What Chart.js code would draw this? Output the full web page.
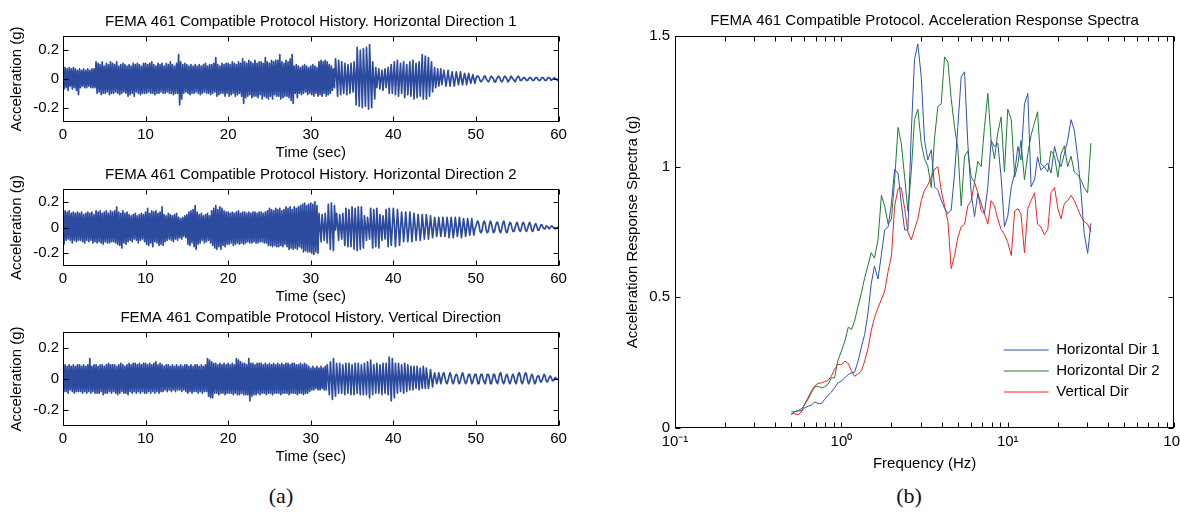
<!DOCTYPE html>
<html>
<head>
<meta charset="utf-8">
<title>FEMA 461 Compatible Protocol</title>
<script src="https://cdn.jsdelivr.net/npm/chart.js@4.4.1/dist/chart.umd.min.js"></script>
<style>
  html, body { margin: 0; padding: 0; background: #fff; }
  body { width: 1180px; height: 512px; position: relative; overflow: hidden; }
  canvas { position: absolute; }
  .panel-tag { position: absolute; top: 485px; line-height: 1; font-family: 'Liberation Serif', 'DejaVu Serif', serif; font-size: 22px; color: #111; transform: translateX(-50%); }
</style>
</head>
<body>
<canvas id="hist1" width="580" height="164" style="left:0;top:0"></canvas>
<canvas id="hist2" width="580" height="155" style="left:0;top:153px"></canvas>
<canvas id="hist3" width="580" height="172" style="left:0;top:296px"></canvas>
<canvas id="spectra" width="600" height="476" style="left:590px;top:0"></canvas>
<div class="panel-tag" style="left:281px">(a)</div>
<div class="panel-tag" style="left:909px">(b)</div>

<script>
// ---- time histories: one sample every 0.125 s, values in hundredths of g ----
const sampleStep = 0.125;
const timeTicks = [0, 10, 20, 30, 40, 50, 60];
const accelTicks = [-0.2, 0, 0.2];

const horizontal1 = [
  0,-7,8,-6,7,-8,8,-5,7,-7,8,-6,7,-8,6,-11,
  7,-6,6,-5,7,-6,6,-6,7,-5,6,-6,7,-6,7,-6,
  12,-10,11,-9,10,-11,12,-10,9,-10,11,-9,10,-11,12,-10,
  11,-10,10,-9,12,-10,9,-11,10,-10,11,-9,10,-10,9,-12,
  10,-11,9,-10,11,-12,10,-9,11,-10,10,-11,9,-10,11,-10,
  11,-10,10,-9,11,-10,12,-10,10,-11,9,-10,11,-10,10,-9,
  11,-10,9,-10,11,-9,10,-10,12,-10,10,-11,9,-10,11,-10,
  17,-18,12,-14,10,-10,11,-9,10,-10,9,-11,10,-10,9,-10,
  10,-9,9,-10,10,-11,9,-10,10,-9,11,-10,9,-10,10,-11,
  10,-10,11,-9,15,-12,10,-11,9,-10,11,-10,10,-12,11,-10,
  11,-12,10,-11,12,-10,11,-12,10,-11,12,-10,11,-12,14,-17,
  12,-13,11,-12,13,-11,12,-13,11,-12,13,-12,11,-13,12,-11,
  12,-14,11,-12,15,-13,12,-14,11,-12,13,-14,12,-11,13,-12,
  13,-12,17,-14,12,-13,11,-12,13,-12,12,-13,14,-15,17,-17,
  9,-10,10,-13,9,-10,8,-11,9,-10,10,-9,9,-11,8,-10,
  9,-11,10,-12,9,-10,8,-12,12,-11,13,-12,12,-10,13,-12,
  12,-11,10,-10,9,-8,7,-6,14,2,-12,13,1,-11,12,-2,
  -10,11,2,-11,10,1,-10,11,0,-9,12,2,-18,22,3,-19,
  20,2,-20,21,0,-19,22,3,-21,24,1,-20,12,0,-14,8,
  -6,1,7,-7,0,6,-8,1,7,-6,0,8,-10,2,10,-10,
  2,12,-11,1,13,-12,0,11,-10,2,12,-13,1,10,-11,0,
  12,-12,1,13,-14,0,11,-13,2,12,-12,0,17,-14,1,16,
  -14,0,15,-12,1,12,-9,0,8,-6,0,7,-5,0,7,-4,
  1,6,1,-5,0,6,0,-5,1,5,0,-5,0,5,1,-4,
  0,5,0,-4,0,4,1,-4,0,4,0,-3,0,3,0,-3,
  0,2,2,1,-1,-2,-1,0,2,2,0,-1,-2,-1,1,2,
  1,0,-2,-2,0,1,2,1,-1,-2,-1,1,2,1,0,-2,
  -1,0,2,1,0,-1,-2,0,1,2,1,-1,-1,0,1,1,
  0,-1,-1,0,1,1,0,-1,-1,0,1,1,0,-1,-1,0,
  1,1,0,-1,-1,0,1,1,0,-1,0,0,1,0,0,-1,0
];

const horizontal2 = [
  0,-13,13,-10,12,-9,13,-10,11,-12,12,-10,11,-11,12,-10,
  11,-10,12,-11,10,-12,11,-10,12,-11,11,-10,12,-12,10,-11,
  13,-12,12,-11,13,-12,11,-13,12,-11,13,-12,11,-12,13,-11,
  12,-11,13,-12,16,-13,12,-14,11,-16,13,-12,11,-13,12,-11,
  10,-10,9,-11,10,-9,11,-10,9,-12,10,-10,11,-9,10,-11,
  12,-13,15,-14,11,-12,13,-15,12,-11,13,-12,11,-14,12,-13,
  16,-14,10,-11,9,-10,11,-9,10,-10,9,-11,10,-9,11,-10,
  8,-8,7,-9,8,-7,9,-8,10,-13,12,-14,13,-12,14,-15,
  17,-17,12,-13,10,-12,11,-10,9,-12,10,-11,11,-10,9,-12,
  13,-14,15,-16,17,-17,14,-15,16,-17,15,-14,13,-15,12,-13,
  12,-13,11,-12,12,-14,11,-13,12,-12,13,-13,11,-12,12,-13,
  12,-12,11,-11,12,-12,11,-12,12,-11,12,-12,11,-12,12,-11,
  12,-11,11,-12,12,-12,13,-14,15,-14,14,-15,13,-14,15,-15,
  14,-15,15,-14,13,-15,14,-13,16,-15,15,-17,16,-16,14,-17,
  16,-16,15,-17,16,-15,17,-16,18,-19,19,-18,17,-19,18,-19,
  19,-20,18,-21,20,-19,17,-20,11,0,-11,10,1,-10,11,-1,
  -12,18,2,-17,19,0,-18,17,-2,11,1,-10,10,0,-9,11,
  -1,-14,15,1,-15,14,0,-15,16,2,-17,15,0,-18,16,1,
  -17,16,0,-16,9,1,-10,8,0,-9,15,1,-16,14,0,-15,
  15,1,-16,10,0,-10,9,1,-9,14,0,-15,15,1,-14,0,
  15,3,-15,-2,14,2,-14,-1,12,2,-11,-1,12,1,-11,-2,
  12,2,-11,-1,11,2,-10,-1,10,1,-10,-2,10,1,-9,-1,
  10,2,-9,-1,9,1,-8,-1,8,2,-7,-1,8,1,-7,-1,
  8,1,-7,-1,8,2,-8,-1,8,1,-8,-2,8,1,-7,-1,
  8,1,-8,-1,7,1,-7,-1,7,1,-6,-1,7,0,-6,-1,
  1,4,5,2,-3,-4,-2,3,5,3,-2,-4,-3,2,5,3,
  -1,-4,-3,1,4,4,1,-3,-4,-1,3,5,2,-3,-4,-2,
  2,4,3,-1,-3,-3,0,3,4,1,-2,-3,-1,3,4,2,
  -2,-3,-1,2,4,2,-2,-3,-1,2,3,1,-2,-2,0,2,
  2,0,-1,-1,1,1,0,-1,0,1,1,0,0,-1,0,0,0
];

const vertical = [
  0,-8,9,-8,8,-9,9,-7,8,-8,9,-9,8,-8,9,-8,
  9,-8,8,-9,9,-8,8,-9,9,-8,13,-9,8,-8,9,-9,
  9,-9,8,-9,9,-8,9,-10,8,-9,9,-9,10,-8,9,-9,
  9,-8,9,-9,8,-10,9,-9,10,-8,9,-9,8,-9,9,-10,
  10,-8,9,-9,10,-8,10,-9,9,-8,10,-9,9,-8,10,-9,
  10,-9,9,-8,10,-9,9,-8,10,-9,11,-8,9,-9,10,-8,
  9,-8,8,-7,9,-8,9,-7,8,-8,9,-7,8,-8,9,-7,
  8,-7,9,-8,8,-7,9,-8,9,-9,8,-8,9,-9,8,-8,
  9,-8,9,-9,8,-8,9,-9,8,-8,9,-8,13,-11,12,-12,
  11,-12,10,-9,10,-9,9,-10,10,-9,9,-9,10,-10,9,-9,
  10,-9,9,-9,10,-10,9,-9,13,-10,12,-10,11,-9,10,-10,
  10,-10,9,-10,13,-14,10,-11,10,-10,9,-10,10,-9,10,-10,
  10,-9,9,-9,10,-10,9,-9,10,-9,9,-10,10,-9,9,-9,
  10,-9,9,-10,10,-9,9,-9,10,-9,10,-10,9,-9,10,-9,
  10,-9,9,-10,9,-9,10,-9,9,-10,10,-9,9,-9,8,-8,
  7,-7,8,-7,7,-6,8,-7,7,-7,8,-6,7,-7,8,-7,
  9,0,-10,11,1,-13,13,-2,-11,10,1,-9,10,0,-9,9,
  1,-10,10,0,-9,10,1,-10,9,0,-10,10,1,-9,10,0,
  -10,9,1,-10,10,0,-10,11,2,-12,12,0,-10,9,1,-9,
  10,0,-9,9,1,-10,10,0,-9,10,1,-10,14,0,-14,13,
  1,-12,10,0,-9,10,1,-8,9,0,-9,10,1,-8,9,0,
  -7,8,1,-7,8,0,-6,8,1,-7,7,0,-6,8,1,-6,
  7,1,-6,-1,6,1,-5,0,4,1,-3,-1,4,1,-3,0,
  3,4,1,-2,-3,-1,2,4,2,-2,-3,-1,2,3,2,-2,
  -3,-1,2,4,2,-1,-3,-2,1,3,3,0,-3,-2,1,3,
  3,0,-3,-3,1,3,3,0,-2,-3,0,3,3,1,-3,-3,
  0,3,3,0,-2,-3,0,3,4,1,-2,-3,-1,2,3,1,
  -2,-3,-1,2,3,1,-2,-3,0,3,4,2,-2,-3,-1,2,
  4,3,-1,-3,-2,1,3,2,-1,-3,-2,1,2,2,-1,-2,
  -1,1,3,2,-1,-2,-1,1,2,1,-1,-1,0,1,0,0,0
];

// ---- acceleration response spectra ----
const frequencyHz = [
  0.50,0.52,0.55,0.58,0.60,0.63,0.66,0.69,0.72,0.76,0.79,0.83,0.87,0.91,0.95,
  1.00,1.05,1.10,1.15,1.20,1.26,1.32,1.38,1.45,1.51,1.58,1.66,1.74,1.82,1.91,
  2.00,2.09,2.19,2.29,2.40,2.51,2.63,2.75,2.88,3.02,3.16,3.31,3.47,3.63,3.80,
  3.98,4.17,4.37,4.57,4.79,5.01,5.25,5.50,5.75,6.03,6.31,6.61,6.92,7.24,7.59,
  7.94,8.32,8.71,9.12,9.55,10.0,10.5,11.0,11.5,12.0,12.6,13.2,13.8,14.5,15.1,
  15.8,16.6,17.4,18.2,19.1,20.0,20.9,21.9,22.9,24.0,25.1,26.3,27.5,28.8,30.2,31.6
];
const spectrumH1 = [
  .062,.062,.065,.067,.077,.083,.088,.10,.094,.094,.108,.125,.137,.154,.172,
  .18,.192,.205,.211,.213,.256,.31,.358,.447,.55,
  .62,.57,.664,.758,.77,.86,.99,.975,.86,.758,
  .758,1.128,1.41,1.47,1.344,1.10,1.026,1.064,.923,.91,
  .872,.84,.82,.834,.975,1.153,1.344,1.363,1.09,.898,
  .809,.898,.86,.82,.923,1.10,1.077,1.09,.96,.77,
  .81,.923,.975,1.077,1.026,1.24,1.28,.923,.95,1.038,
  .987,1.0,1.013,.975,1.077,1.026,1.0,1.05,1.10,1.18,
  1.14,1.038,.91,.745,.668,.783
];
const spectrumH2 = [
  .05,.062,.067,.075,.088,.11,.135,.157,.16,.154,.157,.167,.192,.192,.256,
  .294,.333,.386,.377,.409,.466,.518,.575,.626,.671,
  .65,.72,.89,.85,.78,.80,.95,1.15,1.09,.96,
  .83,.98,1.18,1.22,1.09,1.03,1.0,.92,1.11,1.23,
  1.24,1.42,1.40,1.26,1.15,1.07,.85,1.04,1.06,.96,
  .94,1.02,1.0,1.15,1.28,1.10,1.03,1.13,1.19,.98,
  1.22,1.18,.96,1.01,1.10,.95,1.05,1.12,1.17,1.21,
  1.01,1.0,.98,1.06,1.04,.96,1.05,1.08,1.0,1.04,
  .98,.97,.95,.92,.90,1.09
];
const spectrumV = [
  .055,.055,.05,.065,.09,.116,.141,.16,.17,.173,.177,.182,.198,.224,.243,
  .243,.256,.247,.218,.198,.207,.218,.256,.307,.371,
  .422,.46,.492,.524,.60,.66,.85,.915,.92,.84,
  .75,.72,.76,.80,.87,.91,.93,.96,.99,1.0,
  .91,.85,.79,.61,.66,.73,.77,.78,.85,.87,
  .94,.90,.83,.82,.78,.87,.85,.80,.76,.74,
  .71,.66,.83,.84,.82,.67,.84,.87,.90,.78,
  .77,.74,.76,.90,.92,.84,.80,.86,.87,.89,
  .87,.84,.81,.79,.78,.75
];
const frequencyTicks = [0.1, 1, 10, 100];
const spectrumTicks = [0, 0.5, 1, 1.5];
const spectrumLabels = ['Horizontal Dir 1', 'Horizontal Dir 2', 'Vertical Dir'];

// ---- styling ----
const fontFamily = "'Liberation Sans', Arial, Helvetica, sans-serif";
const textFont = { family: fontFamily, size: 15, weight: 'normal' };
const historyColor = '#2c4a9e';
const spectrumColors = ['#2f52b4', '#1e7d36', '#f02424'];

Chart.defaults.font.family = fontFamily;
Chart.defaults.color = '#000';

// Boxed axes with inward tick marks on all four sides
const boxedAxes = {
  id: 'boxedAxes',
  afterDatasetsDraw(chart, args, opts) {
    const { ctx, chartArea: a, scales } = chart;
    const len = opts.tickLength || 5;
    const xs = scales.x, ys = scales.y;
    const l = Math.round(a.left) + 0.5, r = Math.round(a.right) - 0.5;
    const t = Math.round(a.top) + 0.5, b = Math.round(a.bottom) - 0.5;
    const xVals = xs.ticks.map(tk => tk.value);
    if (opts.logMinor) {
      for (let d = xs.min; d < xs.max * 0.999; d *= 10) {
        for (let m = 2; m <= 9; m++) xVals.push(d * m);
      }
    }
    ctx.save();
    ctx.strokeStyle = '#000';
    ctx.lineWidth = 1;
    ctx.beginPath();
    xVals.forEach(v => {
      const px = Math.round(xs.getPixelForValue(v)) + 0.5;
      ctx.moveTo(px, b); ctx.lineTo(px, b - len);
      ctx.moveTo(px, t); ctx.lineTo(px, t + len);
    });
    ys.ticks.forEach(tk => {
      const py = Math.round(ys.getPixelForValue(tk.value)) + 0.5;
      ctx.moveTo(l, py); ctx.lineTo(l + len, py);
      ctx.moveTo(r, py); ctx.lineTo(r - len, py);
    });
    ctx.stroke();
    ctx.strokeRect(l, t, r - l, b - t);
    ctx.restore();
  }
};

// Places the legend inside the axes, at an offset from the plot area's corner
const legendInside = {
  id: 'legendInside',
  afterLayout(chart, args, opts) {
    const lg = chart.legend;
    if (!lg) return;
    const a = chart.chartArea;
    lg.left = a.left + opts.dx;
    lg.top = a.top + opts.dy;
    lg.right = lg.left + lg.width;
    lg.bottom = lg.top + lg.height;
  }
};

function drawHistory(canvasId, titleText, accel) {
  const points = accel.map((v, i) => ({ x: i * sampleStep, y: v / 100 }));
  return new Chart(document.getElementById(canvasId), {
    type: 'line',
    data: {
      datasets: [{
        data: points,
        borderColor: historyColor,
        borderWidth: 1.7,
        borderJoinStyle: 'round',
        pointRadius: 0,
        tension: 0
      }]
    },
    options: {
      responsive: false,
      animation: false,
      events: [],
      layout: { padding: { left: 0, right: 21.5, top: 0, bottom: 0 } },
      plugins: {
        legend: { display: false },
        tooltip: { enabled: false },
        title: {
          display: true, text: titleText, fullSize: false, color: '#000',
          font: textFont, padding: { top: 12.5, bottom: 5.5 }
        },
        boxedAxes: { tickLength: 5 }
      },
      scales: {
        x: {
          type: 'linear', min: 0, max: 60,
          afterBuildTicks: ax => { ax.ticks = timeTicks.map(v => ({ value: v })); },
          afterFit: ax => { ax.height = 42; },
          grid: { display: false, drawTicks: false },
          border: { display: false },
          ticks: { padding: 4, color: '#000', font: textFont, maxRotation: 0, autoSkip: false },
          title: { display: true, text: 'Time (sec)', color: '#000', font: textFont, padding: { top: 0, bottom: 2 } }
        },
        y: {
          type: 'linear', min: -0.3, max: 0.3,
          afterBuildTicks: ax => { ax.ticks = accelTicks.map(v => ({ value: v })); },
          afterFit: ax => { ax.width = 63; },
          grid: { display: false, drawTicks: false },
          border: { display: false },
          ticks: { padding: 4, color: '#000', font: textFont, callback: v => String(v) },
          title: { display: true, text: 'Acceleration (g)', color: '#000', font: textFont, padding: { top: 8, bottom: 0 } }
        }
      }
    },
    plugins: [boxedAxes]
  });
}

drawHistory('hist1', 'FEMA 461 Compatible Protocol History. Horizontal Direction 1', horizontal1);
drawHistory('hist2', 'FEMA 461 Compatible Protocol History. Horizontal Direction 2', horizontal2);
drawHistory('hist3', 'FEMA 461 Compatible Protocol History. Vertical Direction', vertical);

const superscript = { '-': '\u207B', '0': '\u2070', '1': '\u00B9', '2': '\u00B2', '3': '\u00B3' };
const decadeLabel = v => '10' + String(Math.round(Math.log10(v))).split('').map(c => superscript[c]).join('');

const spectra = [spectrumH1, spectrumH2, spectrumV];

new Chart(document.getElementById('spectra'), {
  type: 'line',
  data: {
    datasets: spectra.map((vals, k) => ({
      label: spectrumLabels[k],
      data: frequencyHz.map((f, i) => ({ x: f, y: vals[i] })),
      borderColor: spectrumColors[k],
      backgroundColor: spectrumColors[k],
      borderWidth: 1,
      borderJoinStyle: 'round',
      pointRadius: 0,
      tension: 0
    }))
  },
  options: {
    responsive: false,
    animation: false,
    events: [],
    layout: { padding: { left: 0, right: 13.2, top: 0, bottom: 0 } },
    plugins: {
      tooltip: { enabled: false },
      title: {
        display: true, text: 'FEMA 461 Compatible Protocol. Acceleration Response Spectra',
        fullSize: false, color: '#000', font: textFont, padding: { top: 11.7, bottom: 6.3 }
      },
      legend: {
        display: true,
        position: 'chartArea',
        align: 'start',
        labels: {
          usePointStyle: true, pointStyle: 'line', pointStyleWidth: 45,
          padding: 6, color: '#000', font: textFont
        }
      },
      legendInside: { dx: 322.7, dy: 300.5 },
      boxedAxes: { tickLength: 5, logMinor: true }
    },
    scales: {
      x: {
        type: 'logarithmic', min: 0.1, max: 100,
        afterBuildTicks: ax => { ax.ticks = frequencyTicks.map(v => ({ value: v, major: true })); },
        afterFit: ax => { ax.height = 48; },
        grid: { display: false, drawTicks: false },
        border: { display: false },
        ticks: { padding: 5, color: '#000', font: textFont, maxRotation: 0, autoSkip: false, callback: v => decadeLabel(v) },
        title: { display: true, text: 'Frequency (Hz)', color: '#000', font: textFont, padding: { top: 0, bottom: 2.7 } }
      },
      y: {
        type: 'linear', min: 0, max: 1.5,
        afterBuildTicks: ax => { ax.ticks = spectrumTicks.map(v => ({ value: v })); },
        afterFit: ax => { ax.width = 85; },
        grid: { display: false, drawTicks: false },
        border: { display: false },
        ticks: { padding: 5, color: '#000', font: textFont, callback: v => String(v) },
        title: { display: true, text: 'Acceleration Response Spectra (g)', color: '#000', font: textFont, padding: { top: 34, bottom: 0 } }
      }
    }
  },
  plugins: [boxedAxes, legendInside]
});
</script>
</body>
</html>
